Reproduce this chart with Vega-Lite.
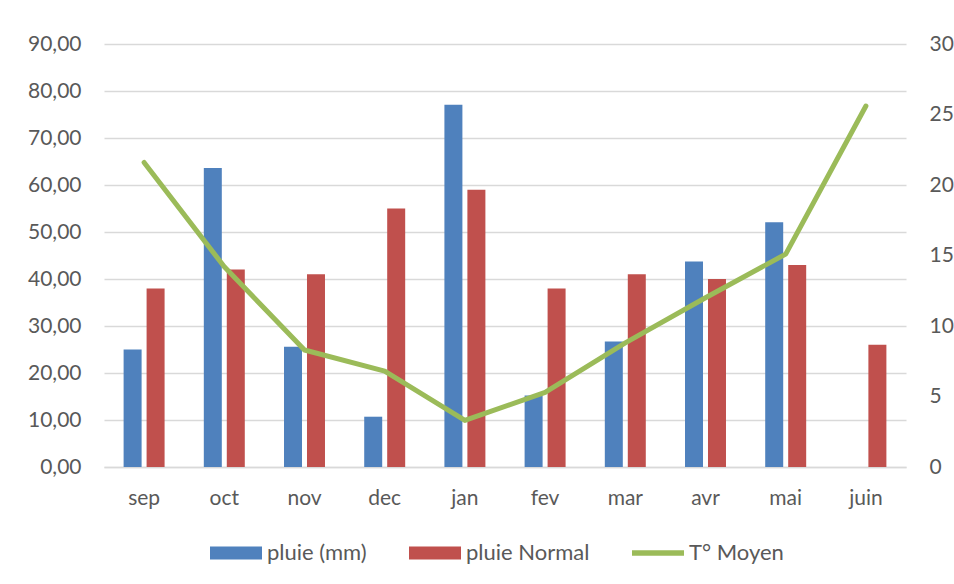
{
  "$schema": "https://vega.github.io/schema/vega-lite/v6.json",
  "autosize": {"type": "none"},
  "width": 802,
  "height": 423,
  "padding": {"left": 104, "top": 44, "right": 48, "bottom": 117},
  "background": "#ffffff",
  "datasets": {
    "pluie": [
      {"mois": "sep", "serie": "pluie (mm)", "valeur": 25},
      {"mois": "sep", "serie": "pluie Normal", "valeur": 38},
      {"mois": "oct", "serie": "pluie (mm)", "valeur": 63.6},
      {"mois": "oct", "serie": "pluie Normal", "valeur": 42},
      {"mois": "nov", "serie": "pluie (mm)", "valeur": 25.6},
      {"mois": "nov", "serie": "pluie Normal", "valeur": 41},
      {"mois": "dec", "serie": "pluie (mm)", "valeur": 10.7},
      {"mois": "dec", "serie": "pluie Normal", "valeur": 55},
      {"mois": "jan", "serie": "pluie (mm)", "valeur": 77.1},
      {"mois": "jan", "serie": "pluie Normal", "valeur": 59},
      {"mois": "fev", "serie": "pluie (mm)", "valeur": 15.2},
      {"mois": "fev", "serie": "pluie Normal", "valeur": 38},
      {"mois": "mar", "serie": "pluie (mm)", "valeur": 26.7},
      {"mois": "mar", "serie": "pluie Normal", "valeur": 41},
      {"mois": "avr", "serie": "pluie (mm)", "valeur": 43.7},
      {"mois": "avr", "serie": "pluie Normal", "valeur": 40},
      {"mois": "mai", "serie": "pluie (mm)", "valeur": 52.1},
      {"mois": "mai", "serie": "pluie Normal", "valeur": 43},
      {"mois": "juin", "serie": "pluie Normal", "valeur": 26}
    ],
    "temperature": [
      {"mois": "sep", "rang": 1, "serie": "T° Moyen", "temp": 21.6},
      {"mois": "oct", "rang": 2, "serie": "T° Moyen", "temp": 14.2},
      {"mois": "nov", "rang": 3, "serie": "T° Moyen", "temp": 8.3},
      {"mois": "dec", "rang": 4, "serie": "T° Moyen", "temp": 6.8},
      {"mois": "jan", "rang": 5, "serie": "T° Moyen", "temp": 3.3},
      {"mois": "fev", "rang": 6, "serie": "T° Moyen", "temp": 5.3},
      {"mois": "mar", "rang": 7, "serie": "T° Moyen", "temp": 8.8},
      {"mois": "avr", "rang": 8, "serie": "T° Moyen", "temp": 12.0},
      {"mois": "mai", "rang": 9, "serie": "T° Moyen", "temp": 15.1},
      {"mois": "juin", "rang": 10, "serie": "T° Moyen", "temp": 25.6}
    ]
  },
  "encoding": {
    "x": {
      "field": "mois",
      "type": "nominal",
      "sort": ["sep", "oct", "nov", "dec", "jan", "fev", "mar", "avr", "mai", "juin"],
      "scale": {"paddingInner": 0.489, "paddingOuter": 0.2445},
      "axis": {
        "title": null,
        "labelAngle": 0,
        "ticks": false,
        "tickSize": 0,
        "labelPadding": 20,
        "domainColor": "#d9d9d9",
        "domainWidth": 1.5
      }
    }
  },
  "layer": [
    {
      "data": {"name": "pluie"},
      "mark": {"type": "bar"},
      "encoding": {
        "xOffset": {
          "field": "serie",
          "type": "nominal",
          "scale": {"domain": ["pluie (mm)", "pluie Normal"], "paddingInner": 0.217, "paddingOuter": 0}
        },
        "y": {
          "field": "valeur",
          "type": "quantitative",
          "scale": {"domain": [0, 90]},
          "axis": {
            "title": null,
            "values": [0, 10, 20, 30, 40, 50, 60, 70, 80, 90],
            "labelExpr": "replace(format(datum.value, '.2f'), '.', ',')",
            "ticks": false,
            "tickSize": 0,
            "domain": false,
            "labelPadding": 23,
            "gridColor": "#d9d9d9",
            "gridWidth": 1.5
          }
        },
        "color": {
          "field": "serie",
          "type": "nominal",
          "scale": {
            "domain": ["pluie (mm)", "pluie Normal", "T° Moyen"],
            "range": ["#4f81bd", "#c0504d", "#9bbb59"]
          },
          "legend": {
            "title": null,
            "orient": "none",
            "direction": "horizontal",
            "legendX": 106,
            "legendY": 483,
            "symbolSize": 2704,
            "symbolStrokeWidth": 0,
            "labelOffset": 5,
            "columnPadding": 42,
            "encode": {
              "symbols": {
                "update": {
                  "shape": {"signal": "datum.value === 'T° Moyen' ? 'M-1,-0.11L1,-0.11L1,0.11L-1,0.11Z' : 'M-1,-0.25L1,-0.25L1,0.25L-1,0.25Z'"}
                }
              }
            }
          }
        }
      }
    },
    {
      "data": {"name": "temperature"},
      "mark": {"type": "line", "strokeWidth": 5, "strokeCap": "round", "strokeJoin": "round"},
      "encoding": {
        "y": {
          "field": "temp",
          "type": "quantitative",
          "scale": {"domain": [0, 30]},
          "axis": {
            "title": null,
            "orient": "right",
            "values": [0, 5, 10, 15, 20, 25, 30],
            "grid": false,
            "ticks": false,
            "tickSize": 0,
            "domain": false,
            "labelPadding": 23
          }
        },
        "order": {"field": "rang", "type": "quantitative"},
        "color": {"field": "serie", "type": "nominal"}
      }
    }
  ],
  "resolve": {"scale": {"y": "independent"}},
  "config": {
    "view": {"stroke": null},
    "font": "Lato",
    "axis": {"labelFont": "Lato", "labelFontSize": 21, "labelColor": "#595959"},
    "legend": {"labelFont": "Lato", "labelFontSize": 22, "labelColor": "#595959", "symbolType": "square"}
  }
}
